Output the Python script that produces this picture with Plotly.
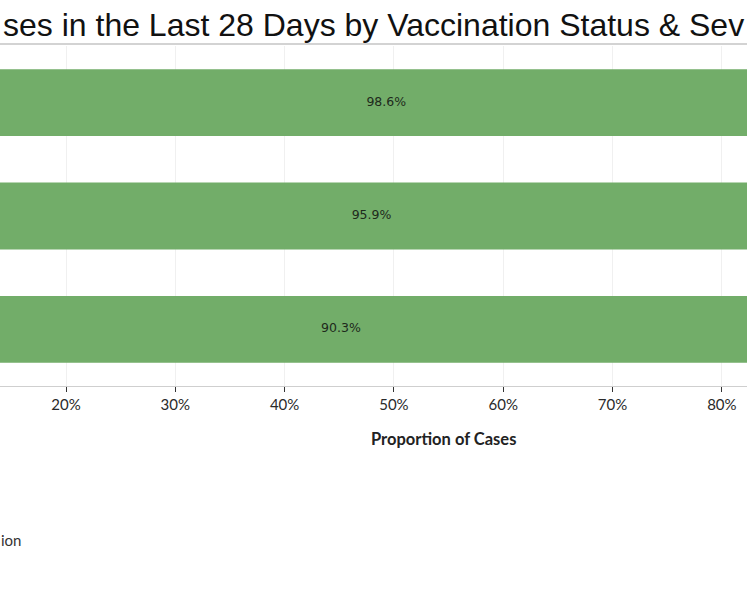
import plotly.graph_objects as go

categories = ["Row A", "Row B", "Row C"]
values = [98.6, 95.9, 90.3]
tick_vals = [10, 20, 30, 40, 50, 60, 70, 80, 90, 100]
tick_text = ["10%", "20%", "30%", "40%", "50%", "60%", "70%", "80%", "90%", "100%"]
title_text = "ses in the Last 28 Days by Vaccination Status & Sev"
x_title = "Proportion of Cases"
footer_text = "ion"

GREEN = "#72ad69"

fig = go.Figure()
fig.add_trace(go.Bar(
    y=categories, x=values, orientation="h",
    marker=dict(color=GREEN, line=dict(width=0)),
    width=0.59, hoverinfo="skip",
))
fig.add_trace(go.Scatter(
    y=categories, x=[v / 2 for v in values], mode="text",
    text=[f"{v:.1f}%" for v in values],
    textfont=dict(family="DejaVu Sans", size=12.5, color="#1e2a1c"),
    hoverinfo="skip", cliponaxis=False,
))

W, H = 747, 598
fig.update_layout(
    width=W, height=H,
    margin=dict(l=0, r=0, t=46, b=212),
    paper_bgcolor="white", plot_bgcolor="white",
    showlegend=False,
    xaxis=dict(
        range=[13.96, 82.30],
        tickvals=tick_vals, ticktext=tick_text,
        showgrid=True, gridcolor="#f0f0f0", gridwidth=1,
        zeroline=False,
        showline=True, linecolor="#cfcfcf", linewidth=1,
        ticks="outside", ticklen=5, tickcolor="#333333", tickwidth=1,
        tickfont=dict(family="Lato", size=15, color="#2a2a2a"),
        fixedrange=True,
    ),
    yaxis=dict(
        categoryorder="array", categoryarray=categories[::-1],
        showticklabels=False, showgrid=False, zeroline=False, showline=False,
        ticks="", fixedrange=True,
    ),
    annotations=[
        dict(text=title_text, xref="paper", yref="paper",
             x=1 / W, xanchor="left", y=1 + 21 / 340, yanchor="middle",
             showarrow=False, font=dict(family="Liberation Sans", size=32, color="#111111")),
        dict(text=f"<b>{x_title}</b>", xref="paper", yref="paper",
             x=443 / W, xanchor="center", y=-(439 - 386) / 340, yanchor="middle",
             showarrow=False, font=dict(family="Lato", size=16.5, color="#222222")),
        dict(text=footer_text, xref="paper", yref="paper",
             x=-1 / W, xanchor="left", y=-(540 - 386) / 340, yanchor="middle",
             showarrow=False, font=dict(family="Lato", size=15, color="#333333")),
    ],
    shapes=[
        dict(type="line", xref="paper", yref="paper", x0=-0.1, x1=1.1,
             y0=1 + 2 / 340, y1=1 + 2 / 340, line=dict(color="#c4c4c4", width=1.5)),
    ],
)

fig.write_html(
    "out.html",
    config={"displayModeBar": False, "staticPlot": True},
    post_script="document.body.style.margin='0';document.body.style.overflow='hidden';",
)
